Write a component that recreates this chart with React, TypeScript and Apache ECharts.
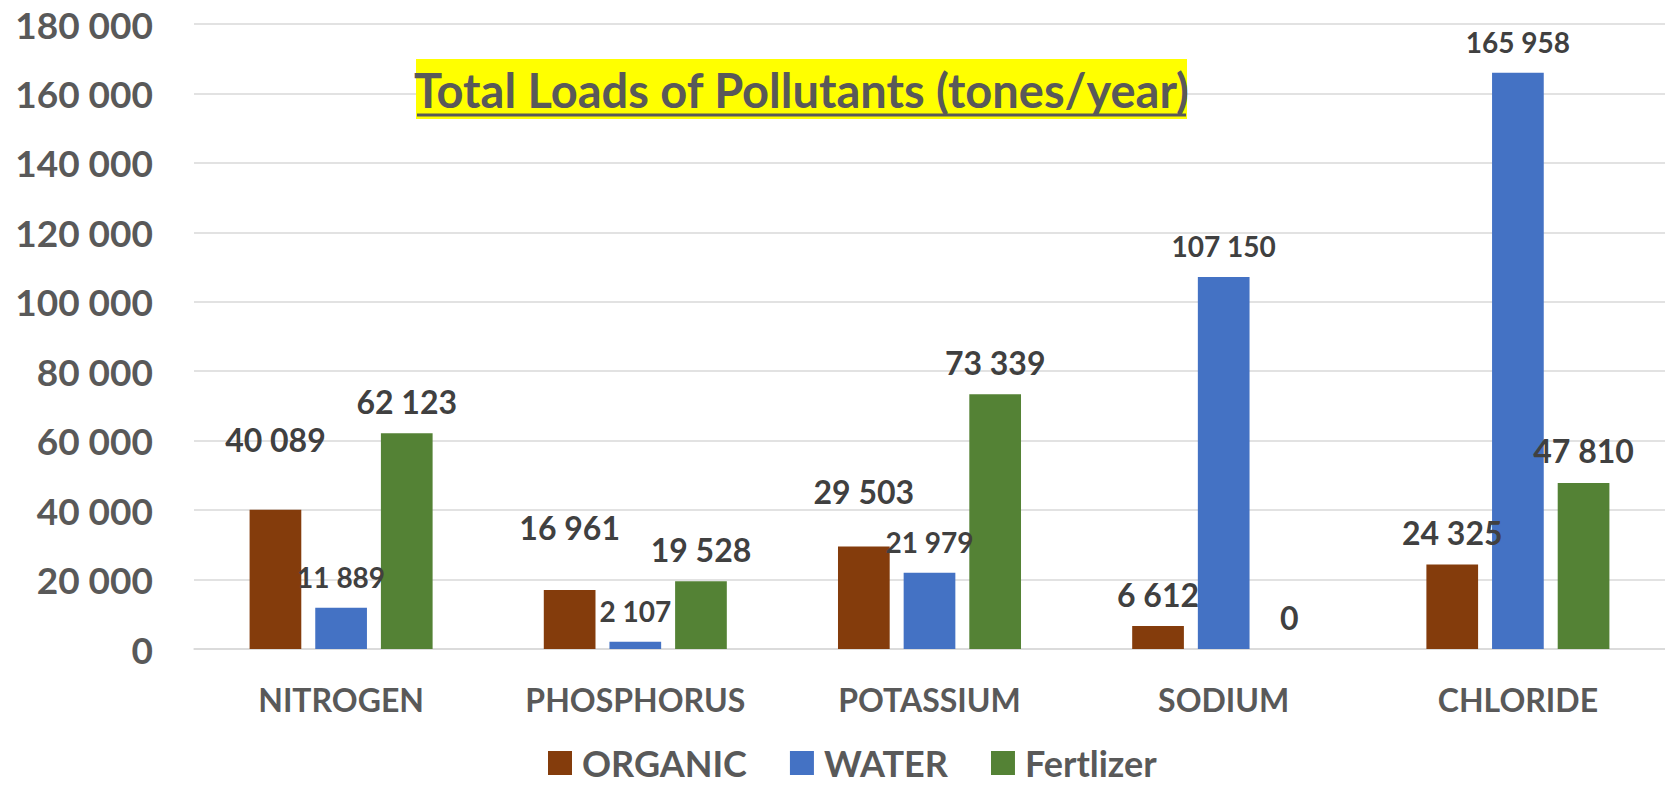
import React, { useEffect, useRef } from "react";
import * as echarts from "echarts";

const categories = ["NITROGEN", "PHOSPHORUS", "POTASSIUM", "SODIUM", "CHLORIDE"];
const organic = [40089, 16961, 29503, 6612, 24325];
const water = [11889, 2107, 21979, 107150, 165958];
const fertilizer = [62123, 19528, 73339, 0, 47810];
const seriesNames = ["ORGANIC", "WATER", "Fertlizer"];
const yTicks = { min: 0, max: 180000, interval: 20000 };
const titleText = "Total Loads of Pollutants (tones/year)";

// label distances (style), per series per category
const organicLift = [54, 47, 39, 16, 16];
const waterLift = [17, 17, 17, 17, 17];
const fertLift = [16, 16, 16, 16, 16];

const FONT = "Lato";
const fmt = (v: number) => String(v).replace(/\B(?=(\d{3})+(?!\d))/g, " ");

export default function App() {
  const ref = useRef<HTMLDivElement>(null);
  useEffect(() => {
    if (!ref.current) return;
    const chart = echarts.init(ref.current, null, { renderer: "svg" });
    const mk = (
      name: string,
      vals: number[],
      lifts: number[],
      color: string,
      fontSize: number
    ) => ({
      name,
      type: "bar",
      barWidth: 51.7,
      barGap: "27%",
      itemStyle: { color },
      data: vals.map((v, i) => ({ value: v, label: { distance: lifts[i] } })),
      label: {
        show: true,
        position: "top",
        formatter: (p: any) => fmt(p.value),
        fontFamily: FONT,
        fontWeight: "bold",
        fontSize,
        color: "#404040",
      },
    });
    chart.setOption({
      animation: false,
      textStyle: { fontFamily: FONT },
      grid: { left: 194, right: -11, top: 24, bottom: 137 },
      xAxis: {
        type: "category",
        data: categories,
        axisTick: { show: false },
        axisLine: { lineStyle: { color: "#d9d9d9", width: 1.5 } },
        axisLabel: {
          margin: 34,
          fontFamily: FONT,
          fontWeight: "bold",
          fontSize: 32,
          color: "#595959",
        },
      },
      yAxis: {
        type: "value",
        min: yTicks.min,
        max: yTicks.max,
        interval: yTicks.interval,
        axisLine: { show: false },
        axisTick: { show: false },
        splitLine: { lineStyle: { color: "#d9d9d9", width: 1.5 } },
        axisLabel: {
          margin: 41,
          formatter: (v: number) => fmt(v),
          fontFamily: FONT,
          fontWeight: "bold",
          fontSize: 37,
          color: "#595959",
        },
      },
      legend: {
        left: 543,
        top: 740,
        itemWidth: 24,
        itemHeight: 24,
        itemGap: 43,
        icon: "rect",
        textStyle: {
          fontFamily: FONT,
          fontWeight: "bold",
          fontSize: 36,
          color: "#595959",
          padding: [0, 0, 0, 5],
        },
      },
      graphic: [
        {
          type: "rect",
          z: 100,
          shape: { x: 416, y: 59, width: 771, height: 60 },
          style: { fill: "#FFFF00" },
        },
        {
          type: "text",
          z: 101,
          x: 801.5,
          y: 90,
          style: {
            text: titleText,
            textAlign: "center",
            textVerticalAlign: "middle",
            fontFamily: FONT,
            fontWeight: "bold",
            fontSize: 47,
            fill: "#595959",
          },
        },
        {
          type: "line",
          z: 101,
          shape: { x1: 417, y1: 115, x2: 1186, y2: 115 },
          style: { stroke: "#595959", lineWidth: 3 },
        },
      ],
      series: [
        mk(seriesNames[0], organic, organicLift, "#843C0C", 32),
        mk(seriesNames[1], water, waterLift, "#4472C4", 28),
        mk(seriesNames[2], fertilizer, fertLift, "#548235", 32),
      ],
    });
    return () => chart.dispose();
  }, []);
  return (
    <div
      ref={ref}
      style={{ position: "absolute", left: 0, top: 0, width: 1665, height: 786 }}
    />
  );
}
